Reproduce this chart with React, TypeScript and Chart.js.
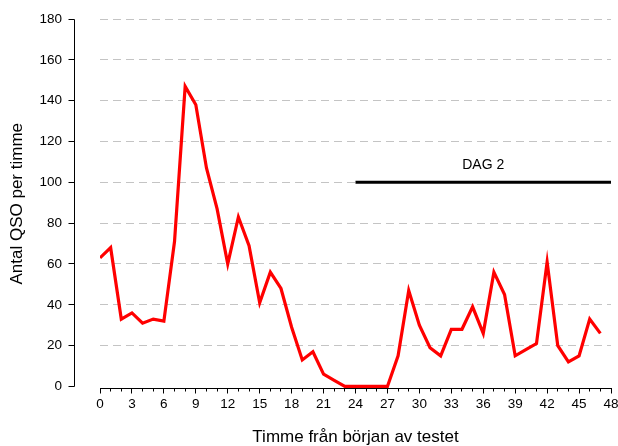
import React, { useEffect, useRef } from 'react';
import { Chart, registerables } from 'chart.js';

Chart.register(...registerables);

const hours = [0, 1, 2, 3, 4, 5, 6, 7, 8, 9, 10, 11, 12, 13, 14, 15, 16, 17, 18, 19, 20, 21, 22, 23, 24, 25, 26, 27, 28, 29, 30, 31, 32, 33, 34, 35, 36, 37, 38, 39, 40, 41, 42, 43, 44, 45, 46, 47];
const qsoPerHour = [63, 68, 33, 36, 31, 33, 32, 71, 147, 138, 107, 87, 60, 83, 69, 41, 56, 48, 29, 13, 17, 6, 3, 0, 0, 0, 0, 0, 15, 47, 30, 19, 15, 28, 28, 39, 26, 56, 45, 15, 18, 21, 61, 20, 12, 15, 33, 26];
const day2Hours = [24, 48];
const day2Level = [100, 100];
const day2Label = 'DAG 2';
const day2LabelHour = 36;
const yTickValues = [0, 20, 40, 60, 80, 100, 120, 140, 160, 180];
const xMin = 0;
const xMax = 48;
const xLabelStep = 3;
const yTitle = 'Antal QSO per timme';
const xTitle = 'Timme från början av testet';

const FONT = "'Liberation Sans', Arial, sans-serif";

const customAxes = {
  id: 'customAxes',
  afterDraw(chart: any) {
    const { ctx, chartArea, scales } = chart;
    const x = scales.x;
    const y = scales.y;
    const align = (p: number) => Math.floor(p) + 0.5;
    ctx.save();
    ctx.strokeStyle = '#000';
    ctx.lineWidth = 1;
    // y axis line (offset left of plot area)
    const ax = 74.5;
    const yTop = align(y.getPixelForValue(yTickValues[yTickValues.length - 1]));
    const yBot = align(y.getPixelForValue(yTickValues[0]));
    ctx.beginPath();
    ctx.moveTo(ax, yTop);
    ctx.lineTo(ax, yBot);
    yTickValues.forEach((v) => {
      const py = align(y.getPixelForValue(v));
      ctx.moveTo(ax - 6, py);
      ctx.lineTo(ax, py);
    });
    ctx.stroke();
    // x tick marks
    const by = chartArea.bottom;
    ctx.beginPath();
    for (let v = xMin; v <= xMax; v++) {
      const px = align(x.getPixelForValue(v));
      ctx.moveTo(px, by);
      ctx.lineTo(px, by + (v % xLabelStep === 0 ? 5 : 3));
    }
    ctx.stroke();
    // DAG 2 label
    ctx.fillStyle = '#000';
    ctx.font = `14px ${FONT}`;
    ctx.textAlign = 'center';
    ctx.textBaseline = 'middle';
    ctx.fillText(day2Label, x.getPixelForValue(day2LabelHour), y.getPixelForValue(day2Level[0]) - 17);
    ctx.restore();
  },
};

export default function App() {
  const ref = useRef<HTMLCanvasElement>(null);
  useEffect(() => {
    if (!ref.current) return;
    Chart.defaults.font.family = FONT;
    Chart.defaults.color = '#000';
    const chart = new Chart(ref.current, {
      type: 'line',
      data: {
        datasets: [
          {
            label: 'QSO',
            data: hours.map((h, i) => ({ x: h, y: qsoPerHour[i] })),
            borderColor: '#ff0000',
            borderWidth: 3.2,
            pointRadius: 0,
            tension: 0,
            fill: false,
          },
          {
            label: day2Label,
            data: day2Hours.map((h, i) => ({ x: h, y: day2Level[i] })),
            borderColor: '#000000',
            borderWidth: 3,
            pointRadius: 0,
            fill: false,
          },
        ],
      },
      options: {
        animation: false,
        responsive: false,
        events: [],
        layout: { padding: { top: 19, right: 7, left: 0, bottom: 0 } },
        plugins: {
          legend: { display: false },
          tooltip: { enabled: false },
        },
        scales: {
          x: {
            type: 'linear',
            min: xMin,
            max: xMax,
            afterFit: (s: any) => {
              s.height = 57.5;
              s.paddingLeft = 0;
              s.paddingRight = 0;
            },
            ticks: {
              stepSize: 1,
              autoSkip: false,
              maxRotation: 0,
              padding: 8,
              font: { size: 13.5 },
              color: '#000',
              callback: (v: any) => (Number(v) % xLabelStep === 0 ? String(v) : ''),
            },
            grid: { display: false, drawTicks: false },
            border: { display: true, color: '#000', width: 1 },
            title: {
              display: true,
              text: xTitle,
              color: '#000',
              font: { size: 17, lineHeight: 1 },
              padding: { top: 0, bottom: 0 },
            },
          },
          y: {
            type: 'linear',
            min: -1,
            max: 180,
            afterFit: (s: any) => {
              s.width = 100;
              s.paddingTop = 8;
              s.paddingBottom = 8;
            },
            afterBuildTicks: (s: any) => {
              s.ticks = yTickValues.map((v) => ({ value: v }));
            },
            ticks: {
              padding: 38,
              font: { size: 13.5 },
              color: '#000',
            },
            grid: {
              drawTicks: false,
              color: (c: any) => (c.tick && c.tick.value === 0 ? 'rgba(0,0,0,0)' : '#c4c4c4'),
              lineWidth: 1,
            },
            border: { display: false, dash: [8, 5] },
            title: {
              display: true,
              text: yTitle,
              color: '#000',
              font: { size: 17, lineHeight: 1 },
              padding: { top: 9, bottom: 0 },
            },
          },
        },
      },
      plugins: [customAxes],
    });
    return () => chart.destroy();
  }, []);
  return (
    <div style={{ position: 'absolute', left: 0, top: 0, width: 618, height: 446, background: '#fff' }}>
      <canvas ref={ref} width={618} height={446} style={{ display: 'block' }} />
    </div>
  );
}
